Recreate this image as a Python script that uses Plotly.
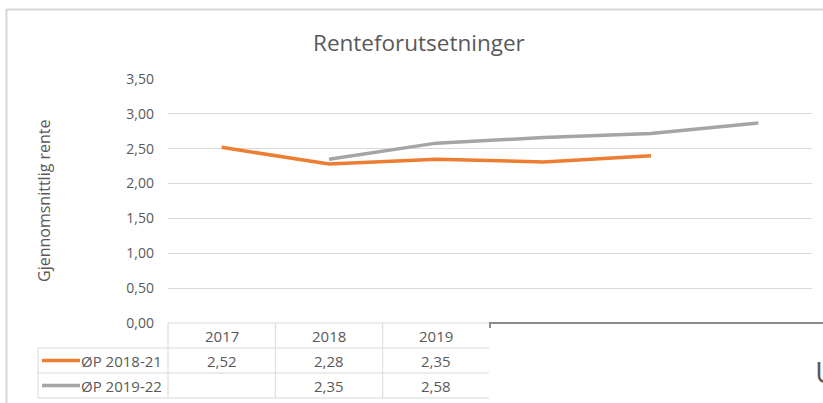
import plotly.graph_objects as go

# ---- data ----
years = ["2017", "2018", "2019", "2020", "2021", "2022"]
op_2018_21 = [2.52, 2.28, 2.35, 2.31, 2.40, None]
op_2019_22 = [None, 2.35, 2.58, 2.66, 2.72, 2.87]
series_names = ["ØP 2018-21", "ØP 2019-22"]
y_ticks = [0, 0.5, 1.0, 1.5, 2.0, 2.5, 3.0, 3.5]

ORANGE = "#ed7d31"
GREY = "#a5a5a5"
TXT = "#595959"
GRID = "#d9d9d9"
FONT = "Open Sans"

# ---- pixel geometry of the plot area ----
FW, FH = 823, 403
L, R, T, B = 168, 812, 79, 323
W, H = R - L, B - T


def px(x):
    return (x - L) / W


def py(y):
    return (B - y) / H


fig = go.Figure()
for name, vals, col in [(series_names[0], op_2018_21, ORANGE),
                        (series_names[1], op_2019_22, GREY)]:
    fig.add_trace(go.Scatter(x=years, y=vals, mode="lines", name=name,
                             line=dict(color=col, width=3.5),
                             showlegend=False, connectgaps=False))

shapes = []


def line(x0, y0, x1, y1, color=GRID, width=1, xref="paper"):
    shapes.append(dict(type="line", xref=xref, yref="paper",
                       x0=x0, y0=y0, x1=x1, y1=y1,
                       line=dict(color=color, width=width), layer="above"))


# outer chart border
line(px(6), py(9.5), px(823), py(9.5), color="#d6d6d6", width=2)
line(px(6.5), py(9), px(6.5), py(403), color="#d6d6d6", width=2)

# data table grid
row_y = [323, 348, 373, 398]
line(px(168), py(323), px(823), py(323))
for yy in row_y[1:]:
    line(px(38), py(yy), px(823), py(yy))
line(px(38), py(348), px(38), py(398))
line(px(168), py(323), px(168), py(398))
for i in range(len(years) - 1):
    shapes.append(dict(type="line", xref="x", yref="paper",
                       x0=i + 0.5, x1=i + 0.5, y0=py(323), y1=py(398),
                       line=dict(color=GRID, width=1), layer="above"))

# legend keys in the table
line(px(42), py(360.5), px(80), py(360.5), color=ORANGE, width=3.5)
line(px(42), py(385.5), px(80), py(385.5), color=GREY, width=3.5)

# overlapping window (screenshot artefact)
shapes.append(dict(type="rect", xref="paper", yref="paper",
                   x0=px(489), x1=px(830), y0=py(322.5), y1=py(410),
                   fillcolor="white", line=dict(width=0), layer="above"))
line(px(490), py(323), px(823), py(323), color="#8c8c8c", width=2)
line(px(490), py(322), px(490), py(328), color="#8c8c8c", width=2)

annotations = []
# title
annotations.append(dict(text="Renteforutsetninger", xref="paper", yref="paper",
                        x=px(419), y=py(42), showarrow=False,
                        font=dict(family=FONT, size=22.5, color=TXT),
                        xanchor="center", yanchor="middle"))
# y-axis title
annotations.append(dict(text="Gjennomsnittlig rente", xref="paper", yref="paper",
                        x=px(44), y=py(201), showarrow=False, textangle=-90,
                        font=dict(family=FONT, size=16, color=TXT),
                        xanchor="center", yanchor="middle"))
# table: series names
for name, yy in zip(series_names, [360.5, 385.5]):
    annotations.append(dict(text=name, xref="paper", yref="paper",
                            x=px(164), y=py(yy), showarrow=False,
                            font=dict(family=FONT, size=15, color=TXT),
                            xanchor="right", yanchor="middle"))
# table: header + values (only the columns not hidden by the overlay)
visible_cols = 3
for i in range(visible_cols):
    annotations.append(dict(text=years[i], xref="x", yref="paper",
                            x=i, y=py(335.5), showarrow=False,
                            font=dict(family=FONT, size=15, color=TXT),
                            xanchor="center", yanchor="middle"))
    for vals, yy in [(op_2018_21, 360.5), (op_2019_22, 385.5)]:
        v = vals[i]
        if v is None:
            continue
        annotations.append(dict(text=f"{v:.2f}".replace(".", ","), xref="x",
                                yref="paper", x=i, y=py(yy),
                                showarrow=False,
                                font=dict(family=FONT, size=15, color=TXT),
                                xanchor="center", yanchor="middle"))
# partial glyph of the overlapping window
annotations.append(dict(text="U", xref="paper", yref="paper",
                        x=px(813), y=py(371), showarrow=False,
                        font=dict(family=FONT, size=30, color="#5a5a5a"),
                        xanchor="left", yanchor="middle"))

fig.update_layout(
    width=FW, height=FH,
    margin=dict(l=L, r=FW - R, t=T, b=FH - B, pad=0),
    paper_bgcolor="white", plot_bgcolor="white",
    separators=", ",
    font=dict(family=FONT, size=14, color=TXT),
    xaxis=dict(type="category", categoryorder="array", categoryarray=years,
               range=[-0.5, len(years) - 0.5], showgrid=False,
               showline=False, zeroline=False, showticklabels=False,
               fixedrange=True),
    yaxis=dict(range=[0, 3.5], tickvals=y_ticks, tickformat=".2f",
               showgrid=True, gridcolor=GRID, gridwidth=1,
               zeroline=False, showline=False, ticks="",
               ticklabelstandoff=13,
               tickfont=dict(family=FONT, size=14, color=TXT),
               fixedrange=True),
    shapes=shapes, annotations=annotations,
)

fig.write_html("out.html")
